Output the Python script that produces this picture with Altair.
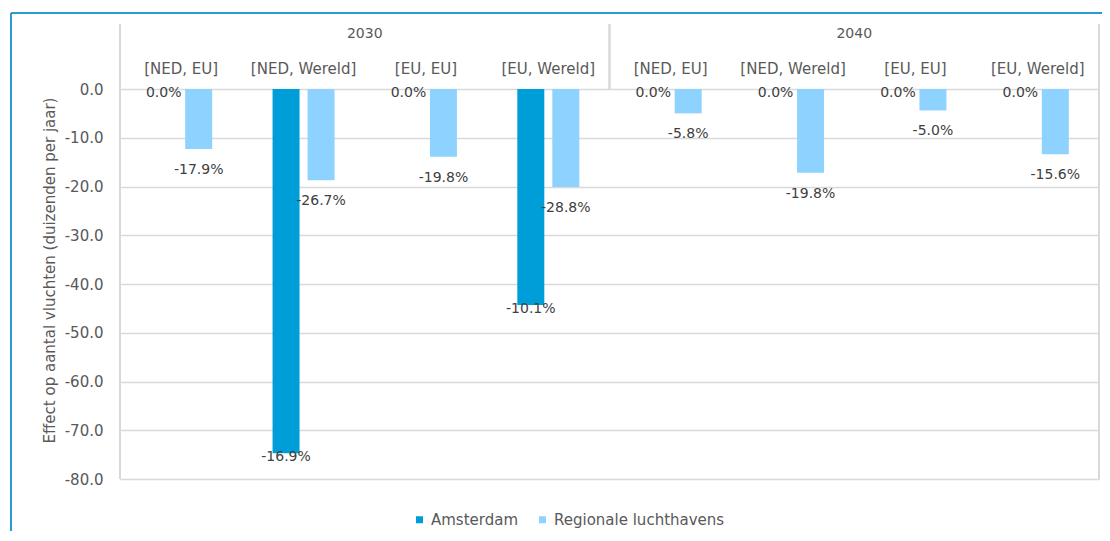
import altair as alt
import pandas as pd

years = ["2030", "2040"]
scenarios = ["[NED, EU]", "[NED, Wereld]", "[EU, EU]", "[EU, Wereld]"]
series = ["Amsterdam", "Regionale luchthavens"]
amsterdam = [0.0, -74.7, 0.0, -44.3, 0.0, 0.0, 0.0, 0.0]
regional = [-12.3, -18.7, -13.9, -20.1, -5.0, -17.2, -4.4, -13.4]
amsterdam_labels = ["0.0%", "-16.9%", "0.0%", "-10.1%", "0.0%", "0.0%", "0.0%", "0.0%"]
regional_labels = ["-17.9%", "-26.7%", "-19.8%", "-28.8%", "-5.8%", "-19.8%", "-5.0%", "-15.6%"]
y_ticks = [0, -10, -20, -30, -40, -50, -60, -70, -80]

cats = [f"{y}|{s}" for y in years for s in scenarios]
rows = []
for i, c in enumerate(cats):
    rows.append({"cat": c, "series": series[0], "value": amsterdam[i], "label": amsterdam_labels[i]})
    rows.append({"cat": c, "series": series[1], "value": regional[i], "label": regional_labels[i]})
df = pd.DataFrame(rows)
year_df = pd.DataFrame({"year": years})

FONT = "DejaVu Sans"
GREY = "#595959"
LINE = "#d9d9d9"
W, H = 979, 390

xenc = alt.X("cat:N", sort=cats, title=None,
             scale=alt.Scale(paddingInner=0.428, paddingOuter=0.214),
             axis=alt.Axis(orient="top", ticks=False, domain=False, grid=False,
                           labelExpr="split(datum.label, '|')[1]",
                           labelAngle=0, labelBaseline="middle", labelPadding=21,
                           labelFontSize=15, labelColor=GREY, labelFont=FONT))
xoff = alt.XOffset("series:N", sort=series,
                   scale=alt.Scale(paddingInner=0.2286, paddingOuter=0.1143))

base = alt.Chart(df)

bars = base.mark_bar().encode(
    x=xenc,
    xOffset=xoff,
    y=alt.Y("value:Q", title="Effect op aantal vluchten (duizenden per jaar)",
            scale=alt.Scale(domain=[-80, 0], nice=False),
            axis=alt.Axis(values=y_ticks, grid=True, gridColor=LINE, gridWidth=1.5,
                          domain=False, ticks=False, labelPadding=17,
                          labelExpr="replace(format(datum.value, '.1f'), '\u2212', '-')",
                          labelFontSize=15, labelColor=GREY, labelFont=FONT,
                          titleFontSize=15, titleColor=GREY, titleFont=FONT,
                          titleFontWeight="normal", titleX=-71, titleY=181,
                          titleAngle=-90, titleBaseline="middle", titleAlign="center")),
    color=alt.Color("series:N", sort=series,
                    scale=alt.Scale(domain=series, range=["#009ED8", "#8ED3FF"]),
                    legend=alt.Legend(title=None, orient="none", direction="horizontal",
                                      legendX=292, legendY=423, symbolType="square",
                                      symbolSize=49, symbolStrokeWidth=0,
                                      labelFontSize=15, labelColor=GREY, labelFont=FONT,
                                      labelLimit=400,
                                      labelOffset=4, columnPadding=16)),
)

lab_ams = base.transform_filter(alt.datum.series == series[0]).mark_text(
    baseline="middle", align="center", dy=4, fontSize=14, font=FONT, color="#404040"
).encode(x=alt.X("cat:N", sort=cats), xOffset=xoff, y="value:Q", text="label:N")

lab_reg = base.transform_filter(alt.datum.series == series[1]).mark_text(
    baseline="middle", align="center", dy=21, fontSize=14, font=FONT, color="#404040"
).encode(x=alt.X("cat:N", sort=cats), xOffset=xoff, y="value:Q", text="label:N")

# header frame lines
left_line = alt.Chart(year_df).mark_rule(color=LINE, strokeWidth=2).encode(
    x=alt.value(0), y=alt.value(-65), y2=alt.value(H))
right_line = alt.Chart(year_df).mark_rule(color=LINE, strokeWidth=2).encode(
    x=alt.value(W), y=alt.value(-65), y2=alt.value(H))
mid_line = alt.Chart(year_df).mark_rule(color=LINE, strokeWidth=2).encode(
    x=alt.value(W / 2), y=alt.value(-65), y2=alt.value(0))

# outer blue frame
frame_left = alt.Chart(year_df).mark_rule(color="#1B96D1", strokeWidth=1.5).encode(
    x=alt.value(-109), y=alt.value(-76), y2=alt.value(460))
frame_top = alt.Chart(year_df).mark_rule(color="#1B96D1", strokeWidth=1.5).encode(
    x=alt.value(-109), x2=alt.value(1000), y=alt.value(-76))

year_text = alt.Chart(year_df).mark_text(
    baseline="middle", align="center", fontSize=14, font=FONT, color=GREY
).encode(
    x=alt.X("year:N", sort=years, axis=None, scale=alt.Scale(paddingInner=0, paddingOuter=0)),
    y=alt.value(-55), text="year:N")

main = alt.layer(bars, lab_ams, lab_reg, left_line, right_line, mid_line)

chart = alt.layer(main, year_text, frame_left, frame_top).resolve_scale(
    x="independent"
).properties(
    width=W, height=H,
    autosize=alt.AutoSizeParams(type="none"),
    padding={"left": 112, "top": 81, "right": 3, "bottom": 52},
).configure_view(stroke=None).configure(background="white")

chart.save("out.html", embed_options={"renderer": "svg", "actions": False})
